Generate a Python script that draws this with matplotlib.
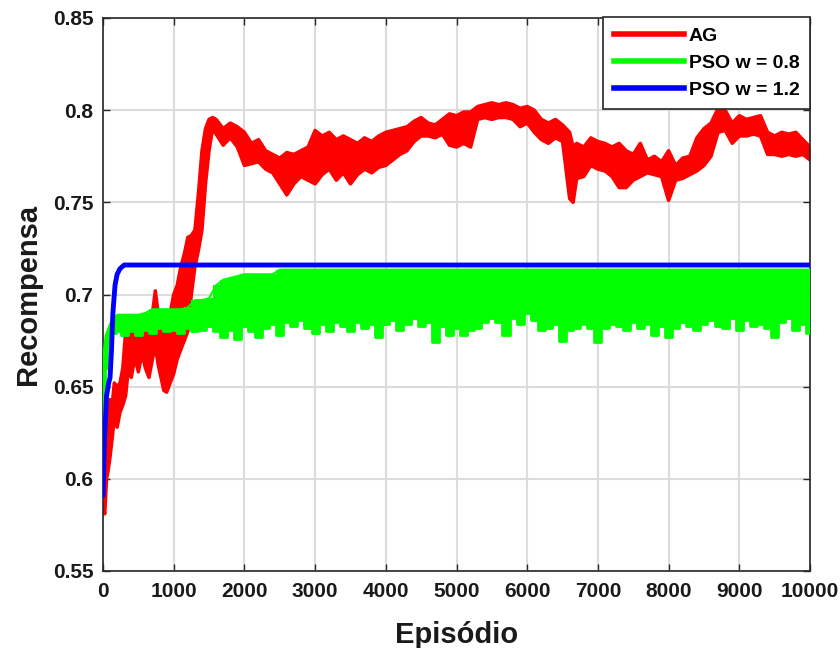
import matplotlib
matplotlib.use("Agg")
import matplotlib.pyplot as plt
from matplotlib.lines import Line2D
import numpy as np

# ---------------- data ----------------
ag_ep = [0, 25, 50, 75, 100, 130, 160, 200, 240, 280, 320, 360, 400, 450, 500, 550,
         600, 650, 700, 740, 780, 820, 860, 900, 950, 1000, 1050, 1100, 1150, 1200,
         1250, 1300, 1350, 1400, 1450, 1500, 1550, 1600, 1700, 1800, 1900, 2000,
         2100, 2200, 2300, 2400, 2500, 2600, 2700, 2800, 2900, 3000, 3100, 3200,
         3300, 3400, 3500, 3600, 3700, 3800, 3900, 4000, 4100, 4200, 4300, 4400,
         4500, 4600, 4700, 4800, 4900, 5000, 5100, 5200, 5300, 5400, 5500, 5600,
         5700, 5800, 5900, 6000, 6100, 6200, 6300, 6400, 6500, 6600, 6650, 6700,
         6800, 6900, 7000, 7100, 7200, 7300, 7400, 7500, 7600, 7700, 7800, 7900,
         8000, 8100, 8200, 8300, 8400, 8500, 8600, 8700, 8800, 8900, 9000, 9100,
         9200, 9300, 9400, 9500, 9600, 9700, 9800, 9900, 10000]
ag_hi = [0.600, 0.606, 0.620, 0.630, 0.643, 0.640, 0.652, 0.650, 0.652, 0.660, 0.680,
         0.682, 0.679, 0.682, 0.678, 0.680, 0.682, 0.686, 0.690, 0.702, 0.690, 0.686,
         0.682, 0.680, 0.690, 0.700, 0.705, 0.715, 0.722, 0.731, 0.732, 0.735, 0.755,
         0.778, 0.790, 0.795, 0.796, 0.795, 0.790, 0.793, 0.791, 0.788, 0.782, 0.784,
         0.778, 0.776, 0.774, 0.777, 0.776, 0.778, 0.780, 0.789, 0.786, 0.788, 0.784,
         0.786, 0.784, 0.782, 0.785, 0.783, 0.786, 0.788, 0.789, 0.790, 0.791, 0.794,
         0.796, 0.793, 0.792, 0.795, 0.798, 0.797, 0.799, 0.799, 0.802, 0.803, 0.804,
         0.803, 0.804, 0.803, 0.801, 0.802, 0.800, 0.795, 0.793, 0.795, 0.792, 0.788,
         0.780, 0.782, 0.780, 0.785, 0.783, 0.782, 0.780, 0.782, 0.778, 0.776, 0.782,
         0.773, 0.775, 0.772, 0.778, 0.770, 0.774, 0.775, 0.785, 0.790, 0.793, 0.801,
         0.800, 0.793, 0.797, 0.795, 0.796, 0.797, 0.788, 0.786, 0.788, 0.787, 0.788,
         0.784, 0.780]
ag_lo = [0.585, 0.581, 0.600, 0.605, 0.612, 0.622, 0.633, 0.628, 0.636, 0.640, 0.645,
         0.660, 0.655, 0.666, 0.658, 0.668, 0.660, 0.655, 0.665, 0.672, 0.662, 0.655,
         0.648, 0.647, 0.652, 0.657, 0.665, 0.670, 0.675, 0.680, 0.700, 0.715, 0.724,
         0.735, 0.760, 0.778, 0.790, 0.787, 0.781, 0.785, 0.780, 0.770, 0.771, 0.772,
         0.768, 0.766, 0.760, 0.754, 0.760, 0.764, 0.762, 0.760, 0.765, 0.768, 0.762,
         0.766, 0.760, 0.765, 0.768, 0.766, 0.769, 0.770, 0.773, 0.776, 0.778, 0.783,
         0.786, 0.786, 0.785, 0.787, 0.781, 0.780, 0.782, 0.780, 0.795, 0.796, 0.795,
         0.796, 0.796, 0.795, 0.791, 0.793, 0.788, 0.784, 0.782, 0.785, 0.783, 0.752,
         0.750, 0.763, 0.764, 0.770, 0.768, 0.767, 0.764, 0.758, 0.758, 0.762, 0.764,
         0.766, 0.765, 0.764, 0.751, 0.762, 0.763, 0.765, 0.767, 0.770, 0.775, 0.788,
         0.789, 0.782, 0.786, 0.786, 0.787, 0.786, 0.776, 0.776, 0.775, 0.776, 0.775,
         0.776, 0.773]

pso08_ep = [0, 20, 40, 70, 100, 130, 170, 200] + list(range(300, 10001, 100))
pso08_hi = [0.665, 0.672, 0.678, 0.681, 0.684, 0.686, 0.688, 0.689,
            0.689, 0.689, 0.689, 0.690, 0.692, 0.692, 0.692, 0.692, 0.692, 0.693,
            0.697, 0.697, 0.698, 0.705, 0.708, 0.709, 0.710, 0.711, 0.711, 0.711,
            0.711, 0.711] + [0.7135] * 76
pso08_lo = [0.628, 0.645, 0.660, 0.672, 0.677, 0.679, 0.679, 0.680,
            0.678, 0.680, 0.678, 0.681, 0.679, 0.682, 0.680, 0.681, 0.679, 0.682,
            0.680, 0.681, 0.683, 0.680, 0.677, 0.681, 0.676, 0.683, 0.680, 0.677,
            0.682, 0.684, 0.678, 0.685, 0.683, 0.686, 0.682, 0.679, 0.684, 0.680,
            0.685, 0.683, 0.680, 0.685, 0.682, 0.684, 0.677, 0.684, 0.686, 0.681,
            0.684, 0.687, 0.683, 0.685, 0.674, 0.683, 0.678, 0.682, 0.678, 0.681,
            0.682, 0.685, 0.687, 0.685, 0.678, 0.687, 0.684, 0.690, 0.686, 0.681,
            0.682, 0.684, 0.675, 0.681, 0.682, 0.684, 0.682, 0.674, 0.682, 0.684,
            0.683, 0.681, 0.685, 0.682, 0.684, 0.678, 0.683, 0.677, 0.682, 0.685,
            0.683, 0.681, 0.684, 0.686, 0.683, 0.682, 0.687, 0.681, 0.686, 0.683,
            0.684, 0.682, 0.677, 0.685, 0.687, 0.681, 0.684, 0.679]

pso12_ep = [0, 20, 50, 80, 100, 120, 140, 170, 200, 240, 300, 10000]
pso12_val = [0.590, 0.620, 0.645, 0.652, 0.655, 0.670, 0.690, 0.705, 0.711, 0.714,
             0.716, 0.716]

series_labels = ["AG", "PSO w = 0.8", "PSO w = 1.2"]
x_ticks = list(range(0, 10001, 1000))
y_ticks = [0.55, 0.6, 0.65, 0.7, 0.75, 0.8, 0.85]
y_tick_labels = ["0.55", "0.6", "0.65", "0.7", "0.75", "0.8", "0.85"]

# ---------------- plot ----------------
plt.rcParams['font.family'] = ['Liberation Sans', 'DejaVu Sans']
RED, GREEN, BLUE = '#ff0000', '#00ff00', '#0000ff'
TXT = '#1a1a1a'

fig = plt.figure(figsize=(8.4, 6.48), dpi=100)
ax = fig.add_axes([103/840, 77/648, 707/840, 553/648])

ax.fill_between(ag_ep, ag_lo, ag_hi, color=RED, lw=0, zorder=2)
ax.plot(ag_ep, ag_hi, color=RED, lw=2.5, zorder=2)
ax.plot(ag_ep, ag_lo, color=RED, lw=2.5, zorder=2)

ax.fill_between(pso08_ep, pso08_lo, pso08_hi, step='mid', color=GREEN, lw=0, zorder=3)
ax.plot(pso08_ep, pso08_lo, color=GREEN, lw=2.0, drawstyle='steps-mid', zorder=3)
ax.plot(pso08_ep, pso08_hi, color=GREEN, lw=1.5, zorder=3)

ax.plot(pso12_ep, pso12_val, color=BLUE, lw=3.5, zorder=4, solid_capstyle='butt')

ax.set_xlim(0, 10000)
ax.set_ylim(0.55, 0.85)
ax.set_xticks(x_ticks)
ax.set_xticklabels([str(t) for t in x_ticks])
ax.set_yticks(y_ticks)
ax.set_yticklabels(y_tick_labels)
ax.tick_params(direction='in', length=5, width=1, top=True, right=True,
               labelsize=15, colors='#262626')
ax.tick_params(axis='x', pad=8)
ax.tick_params(axis='y', pad=7)
for lab in ax.get_xticklabels() + ax.get_yticklabels():
    lab.set_fontweight('bold')
    lab.set_color(TXT)
ax.grid(True, color='#dcdcdc', lw=1.5, zorder=0)
ax.set_axisbelow(True)
for sp in ax.spines.values():
    sp.set_color('#262626')
    sp.set_linewidth(1.2)

ax.set_xlabel("Episódio", fontsize=21, fontweight='bold', color=TXT, labelpad=14)
ax.set_ylabel("Recompensa", fontsize=21, fontweight='bold', color=TXT, labelpad=8)

handles = [Line2D([], [], color=c, lw=4) for c in (RED, GREEN, BLUE)]
leg = ax.legend(handles, series_labels, loc='upper right', bbox_to_anchor=(1.0, 1.002),
                prop={'size': 14, 'weight': 'bold'}, frameon=True, fancybox=False,
                borderaxespad=0, handlelength=3.6, handletextpad=0.26,
                labelspacing=0.47, borderpad=0.55)
leg.get_frame().set_edgecolor('#262626')
leg.get_frame().set_linewidth(1.2)
leg.get_frame().set_alpha(1)
for t in leg.get_texts():
    t.set_color('black')

fig.savefig("out.png", dpi=100)
